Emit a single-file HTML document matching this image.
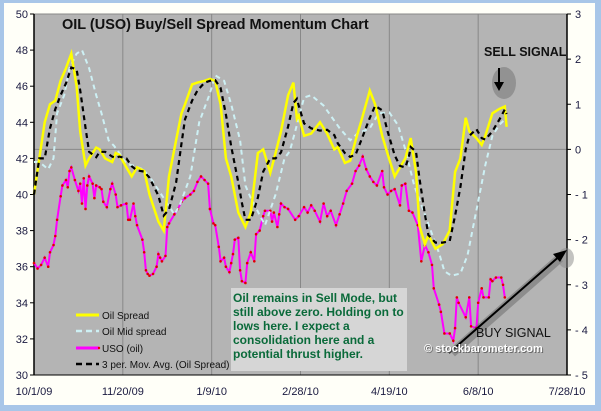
<!DOCTYPE html>
<html><head><meta charset="utf-8"><style>
html,body{margin:0;padding:0;background:#a8c6e8;}
svg{display:block;font-family:"Liberation Sans",Arial,sans-serif;}
</style></head><body>
<svg width="601" height="411" viewBox="0 0 601 411">
<rect x="0" y="0" width="601" height="411" fill="#a8c6e8"/>
<rect x="4" y="3" width="591" height="402" fill="#fffff8"/>
<rect x="34" y="14" width="533" height="361" fill="#b4b4b4" stroke="#888"/>
<g id="grid"></g>
<g id="axes"></g>
<g id="series"></g>
<text x="62" y="29" font-size="14.5" font-weight="bold" fill="#111">OIL (USO) Buy/Sell Spread Momentum Chart</text>
<g>
<ellipse cx="504" cy="83" rx="12" ry="16" fill="#777" opacity="0.55"/>
<line x1="499" y1="68" x2="499" y2="85" stroke="#000" stroke-width="2"/>
<polygon points="494,82 504,82 499,91" fill="#000"/>
<text x="484" y="56" font-size="12.5" font-weight="bold" fill="#111">SELL SIGNAL</text>
</g>
<g>
<line x1="76" y1="315" x2="99" y2="315" stroke="#ffff00" stroke-width="3"/>
<text x="102" y="319" font-size="10" fill="#111">Oil Spread</text>
<line x1="76" y1="331" x2="99" y2="331" stroke="#cdf0f4" stroke-width="2.5" stroke-dasharray="6,4"/>
<text x="102" y="335" font-size="10" fill="#111">Oil Mid spread</text>
<line x1="76" y1="348" x2="99" y2="348" stroke="#ff00ff" stroke-width="3"/>
<circle cx="99" cy="348" r="1.2" fill="#e00"/>
<text x="102" y="352" font-size="10" fill="#111">USO (oil)</text>
<line x1="76" y1="364" x2="99" y2="364" stroke="#000" stroke-width="2.5" stroke-dasharray="6,4"/>
<text x="102" y="368" font-size="10" fill="#111">3 per. Mov. Avg. (Oil Spread)</text>
</g>
<g>
<rect x="231" y="288" width="176" height="83" fill="#d6d6d6"/>
<g font-size="12" font-weight="bold" fill="#0a6a3a">
<text x="233" y="302">Oil remains in Sell Mode, but</text>
<text x="233" y="316">still above zero.  Holding on to</text>
<text x="233" y="330">lows here.  I expect a</text>
<text x="233" y="344">consolidation here and a</text>
<text x="233" y="358">potential thrust higher.</text>
</g></g>
<g>
<line x1="452" y1="353" x2="560" y2="258" stroke="#555" stroke-width="9" opacity="0.4"/>
<ellipse cx="566" cy="258" rx="8" ry="10" fill="#888" opacity="0.5"/>
<line x1="449" y1="353" x2="562" y2="254" stroke="#000" stroke-width="2"/>
<polygon points="567,250 553,254 560,262" fill="#000"/>
<text x="476" y="337" font-size="12.5" fill="#111">BUY SIGNAL</text>
<text x="425" y="353" font-size="11" font-weight="bold" fill="#555" opacity="0.8">© stockbarometer.com</text>
<text x="424" y="352" font-size="11" font-weight="bold" fill="#fff">© stockbarometer.com</text>
</g>
</svg>
<script>
const leftTicks=[30,32,34,36,38,40,42,44,46,48,50];
const rightTicks=[-5,-4,-3,-2,-1,0,1,2,3];
const dateLabels=["10/1/09","11/20/09","1/9/10","2/28/10","4/19/10","6/8/10","7/28/10"];
const dateDays=[0,50,100,150,200,250,300];
const spreadDays=[0,3,6,9,12,15,18,21,24,26,29,31,35,37,40,44,46,48,52,55,58,62,65,70,73,76,80,83,85,89,92,96,99,102,105,108,111,115,117,119,122,126,129,133,136,139,143,146,148,149,152,156,161,165,169,171,175,178,181,184,189,192,196,199,203,206,209,211,212,215,217,220,222,226,230,234,237,240,243,245,249,252,254,258,262,265,266];
const spreadVals=[-1,-0.2,0.6,1,1.08,1.52,1.8,2.12,1.4,0.4,-0.36,-0.2,0.04,0,-0.2,-0.28,-0.08,-0.12,-0.4,-0.6,-0.4,-0.48,-1,-1.6,-1.8,-0.6,0.2,0.8,1,1.44,1.48,1.52,1.56,1.52,1,-0.2,-0.6,-1.4,-1.56,-1.72,-1.4,-0.08,0,-0.52,-0.08,0.4,1.2,1.48,0.68,0.75,0.3,0.35,0.6,0.35,0,0.05,-0.3,-0.25,0.2,0.6,1.3,1.0,0.3,-0.1,-0.6,-0.4,-0.2,0.1,0.25,-0.5,-1.7,-2.1,-1.9,-2.2,-2.1,-1.8,-0.5,-0.2,0.7,0.4,0.25,0.1,0.3,0.8,0.9,0.95,0.5];
const midDays=[0,3,8,11,13,17,20,24,27,31,35,38,42,45,48,52,56,61,65,69,73,79,82,88,93,99,102,107,111,116,119,122,130,136,141,144,147,152,156,163,172,178,182,189,194,200,205,209,214,228,231,235,240,244,250,254,258,262,266];
const midVals=[-0.28,-0.28,-0.44,-0.2,0.8,1.2,1.8,2.12,2.2,1.8,1.2,0.8,0.2,0.08,-0.08,-0.32,-0.36,-0.44,-0.6,-0.84,-1.08,-1.44,-1.24,-0.6,0.6,1.24,1.64,1.52,1,0.2,-0.8,-1.08,-1.68,-1,-0.2,-0.04,0.4,1.15,1.2,0.97,0.47,0.2,0.35,0.47,0.8,0.82,0.53,0,-0.8,-2.3,-2.7,-2.8,-2.75,-2.35,-1.15,-0.35,0.3,0.55,0.7];
const usoDays=[0,2,4,6,8,9,11,12,13,15,16,18,19,20,21,23,25,26,27,28,29,30,31,33,34,35,37,38,39,41,43,44,46,47,49,52,53,54,56,57,58,61,62,63,64,65,67,69,70,71,72,74,75,76,79,81,83,85,88,90,92,94,96,98,99,101,102,104,105,107,108,110,111,112,113,115,116,117,119,120,122,124,125,127,129,130,133,134,135,137,138,139,141,143,147,149,152,154,156,158,161,163,165,167,170,172,174,176,179,181,183,185,187,189,191,193,196,197,199,201,203,206,207,209,211,213,216,218,220,222,224,225,228,229,231,234,236,237,238,239,243,245,246,249,250,252,253,256,257,258,260,263,264,265];
const usoVals=[36.2,35.9,36.1,36.5,36,36.8,37.2,37.7,38.6,39.9,40.5,40.8,40.4,41.3,41.5,40.8,40.2,40.6,39.5,40.9,39.2,40.5,41,40.6,39.8,40.5,40.4,40.3,39.6,39.3,40.3,40.6,40,39.3,39.4,39.5,38.6,38.6,39.5,38.8,38.3,37.5,36.8,35.8,35.6,35.5,35.6,36,36.7,36.5,36.3,36.6,38.2,38.4,38.9,39.2,39.6,39.8,40,40.2,40.7,41,40.8,40.6,39.2,38.4,38.3,37.1,36.3,36.5,36,35.7,36.2,36.7,37.5,37.6,35.8,35.2,35.1,36.2,36.8,36.3,37.8,38,38.8,39.1,39.1,38.5,39,38.2,38.9,39.5,39.3,39.2,38.6,38.8,39.3,39.0,39.4,39.1,38.5,39.5,38.8,39.1,38.3,38.9,39.5,40.2,40.6,41.3,41.6,42.1,41.4,41.0,40.7,40.5,41.3,40.4,40.0,40.2,40.3,39.4,40.5,40.6,39.1,39.0,38.3,36.3,37.2,36.8,36.1,34.8,33.9,33.5,32.3,32.3,31.9,32.6,34.3,34.0,33.2,34.3,32.7,32.6,34.0,34.8,34.3,34.3,35.3,35.2,35.4,35.4,35.0,34.3];

const NS='http://www.w3.org/2000/svg';
const X0=34,X1=567,Y0=14,Y1=375;
function xDay(d){return X0+(X1-X0)*d/300;}
function yLeft(v){return Y1-(v-30)/20*(Y1-Y0);}
function yRight(v){return Y1-(v+5)/8*(Y1-Y0);}
function mk(tag,attrs,parent){const e=document.createElementNS(NS,tag);for(const k in attrs)e.setAttribute(k,attrs[k]);parent.appendChild(e);return e;}
const grid=document.getElementById('grid'),axes=document.getElementById('axes'),series=document.getElementById('series');
dateDays.forEach((d,i)=>{
  if(i>0&&i<dateDays.length-1){const l=mk('line',{x1:xDay(d),x2:xDay(d),y1:Y0,y2:Y1,stroke:'#888','stroke-width':1},grid);
  
  }
  const t=mk('text',{x:xDay(d),y:395,'font-size':11,'text-anchor':'middle',fill:'#1a1a40'},axes);
  t.textContent=dateLabels[i];
  
  
});
const zl=mk('line',{x1:X0,x2:X1,y1:yRight(0),y2:yRight(0),stroke:'#888','stroke-width':1},grid);


mk('line',{x1:X0,x2:X0,y1:Y0,y2:Y1,stroke:'#000','stroke-width':1.5},axes);
mk('line',{x1:X1,x2:X1,y1:Y0,y2:Y1,stroke:'#000','stroke-width':1.5},axes);
mk('line',{x1:X0,x2:X1,y1:Y1,y2:Y1,stroke:'#000','stroke-width':1},axes);
leftTicks.forEach(v=>{const y=yLeft(v);mk('line',{x1:X0-4,x2:X0,y1:y,y2:y,stroke:'#000'},axes);
  const t=mk('text',{x:28,y:y+4,'font-size':11,'text-anchor':'end',fill:'#1a1a40'},axes);t.textContent=v;
  
  });
rightTicks.forEach(v=>{const y=yRight(v);mk('line',{x1:X1,x2:X1+4,y1:y,y2:y,stroke:'#000'},axes);
  const t=mk('text',{x:575,y:y+4,'font-size':11,fill:'#1a1a40'},axes);t.textContent=(v<0?'- '+(-v):v);
  
  });
function path(days,vals,yf){return days.map((d,i)=>(i?'L':'M')+xDay(d).toFixed(1)+','+yf(vals[i]).toFixed(1)).join(' ');}
const ma=spreadVals.map((v,i)=>i<2?v:(spreadVals[i]+spreadVals[i-1]+spreadVals[i-2])/3);
const pu=mk('path',{d:path(usoDays,usoVals,yLeft),fill:'none',stroke:'#ff00ff','stroke-width':2},series);


usoDays.forEach((d,i)=>{const c=mk('circle',{cx:xDay(d),cy:yLeft(usoVals[i]),r:1.3,fill:'#e00000'},series);
  
  });
const pm=mk('path',{d:path(midDays,midVals,yRight),fill:'none',stroke:'#cdf0f4','stroke-width':2,'stroke-dasharray':'5,4'},series);


const ps=mk('path',{d:path(spreadDays,spreadVals,yRight),fill:'none',stroke:'#ffff00','stroke-width':2.5},series);


const pa=mk('path',{d:path(spreadDays,ma,yRight),fill:'none',stroke:'#000','stroke-width':2.2,'stroke-dasharray':'5,4'},series);


</script>
</body></html>
